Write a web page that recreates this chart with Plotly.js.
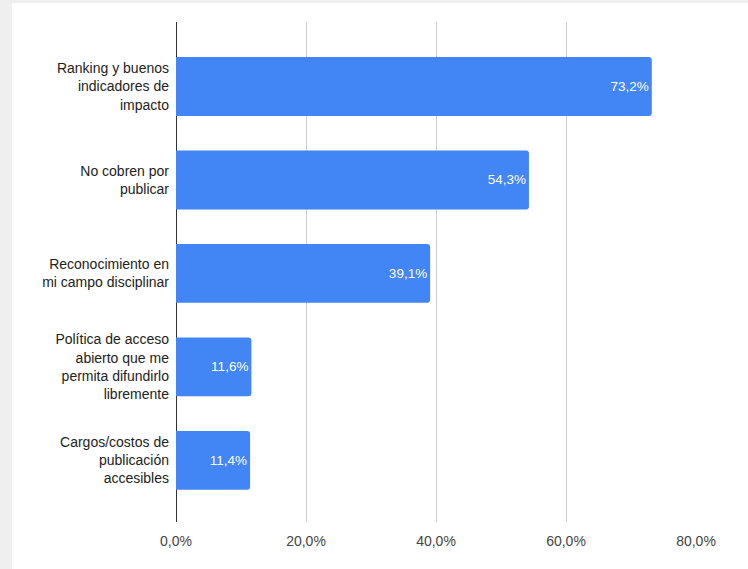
<!DOCTYPE html>
<html>
<head>
<meta charset="utf-8">
<script src="https://cdn.plot.ly/plotly-3.0.1.min.js"></script>
<style>
html,body{margin:0;padding:0;background:#efefef;width:748px;height:569px;overflow:hidden;}
#chart{position:absolute;left:12px;top:3px;width:736px;height:566px;background:#fff;}
</style>
</head>
<body>
<div id="chart"></div>
<script>
const categories = [
  "Ranking y buenos<br>indicadores de<br>impacto",
  "No cobren por<br>publicar",
  "Reconocimiento en<br>mi campo disciplinar",
  "Política de acceso<br>abierto que me<br>permita difundirlo<br>libremente",
  "Cargos/costos de<br>publicación<br>accesibles"
];
const values = [0.732, 0.543, 0.391, 0.116, 0.114];
const tickValues = [0, 0.2, 0.4, 0.6, 0.8];

const trace = {
  type: 'bar',
  orientation: 'h',
  y: categories,
  x: values,
  marker: {color: '#4285f4', cornerradius: 3},
  width: 0.63,
  text: values.map(v => (v*100).toFixed(1).replace('.', ',') + '%'),
  textposition: 'inside',
  insidetextanchor: 'end',
  textfont: {family: 'Liberation Sans, Arial, sans-serif', size: 13.5, color: '#ffffff'},
  hoverinfo: 'none',
  cliponaxis: false
};

const layout = {
  width: 736, height: 566,
  margin: {l: 164, r: 52, t: 19, b: 47},
  paper_bgcolor: '#ffffff',
  plot_bgcolor: '#ffffff',
  separators: ',.',
  showlegend: false,
  font: {family: 'Liberation Sans, Arial, sans-serif', size: 14, color: '#222'},
  xaxis: {
    range: [0, 0.8],
    tickvals: tickValues,
    tickformat: '.1%',
    showgrid: true,
    gridcolor: '#cccccc',
    gridwidth: 1,
    zeroline: true,
    zerolinecolor: '#333333',
    zerolinewidth: 1,
    showline: false,
    ticks: '',
    ticklabelstandoff: 9,
    tickfont: {size: 14, color: '#444'},
    fixedrange: true
  },
  yaxis: {
    type: 'category',
    range: [4.66, -0.69],
    showgrid: false,
    zeroline: false,
    showline: false,
    ticks: '',
    ticklabelstandoff: 6,
    tickfont: {size: 14, color: '#222'},
    fixedrange: true
  }
};

Plotly.newPlot('chart', [trace], layout, {displayModeBar: false, staticPlot: true});
</script>
</body>
</html>
